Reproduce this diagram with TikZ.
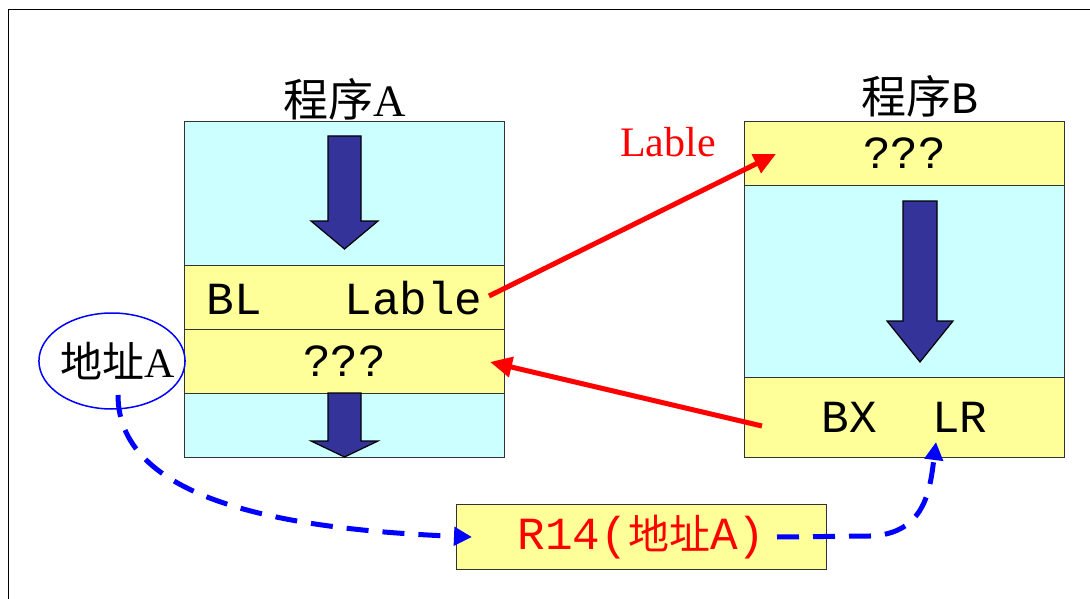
\documentclass[tikz,border=0pt]{standalone}
\usepackage{fontspec}
\setmainfont{Liberation Serif}
\setmonofont{Liberation Mono}
\newfontfamily\cjk{Noto Sans CJK SC}
\usetikzlibrary{arrows.meta,shapes.geometric}
\definecolor{memcyan}{HTML}{CCFFFF}
\definecolor{memyellow}{HTML}{FFFF99}
\definecolor{flowblue}{HTML}{333399}
\tikzset{
  membox/.style={draw=black!80, line width=1.2pt, fill=memcyan, anchor=north west, inner sep=0pt},
  rowbox/.style={draw=black!80, line width=1.2pt, fill=memyellow, anchor=north west, inner sep=0pt,
    font=\ttfamily\fontsize{46}{46}\selectfont},
  title/.style={font=\fontsize{45}{45}\selectfont, inner sep=0pt},
  flow/.style={draw=black, line width=1.2pt, fill=flowblue, line join=miter},
  jump/.style={draw=red, line width=5pt, -{Triangle[length=22pt,width=20pt]}},
  link/.style={draw=blue, line width=5pt, dash pattern=on 22pt off 14pt,
    -{Triangle[length=18pt,width=18pt]}},
}
\begin{document}
\begin{tikzpicture}[x=1pt,y=-1pt]
\useasboundingbox (0,0) rectangle (1090,599);
% outer frame (only top and left edges lie inside the page)
\draw[line width=1.6pt] (1095,9.5) -- (8.5,9.5) -- (8.5,605);

% program A
\node[membox, minimum width=320pt, minimum height=336pt] (progA) at (184,121) {};
\node[rowbox, minimum width=320pt, minimum height=64pt] (blrow) at (184,265) {BL~~~Lable};
\node[rowbox, minimum width=320pt, minimum height=64pt] (retA) at (184,329) {???};
\node[title] (titleA) at (345,99) {{\cjk 程序}A};

% program B
\node[membox, minimum width=320pt, minimum height=336pt] (progB) at (744,121) {};
\node[rowbox, minimum width=320pt, minimum height=64pt] (entryB) at (744,121) {???};
\node[rowbox, minimum width=320pt, minimum height=80pt] (bxrow) at (744,377) {BX~~LR};
\node[title] (titleB) at (920,96) {{\cjk 程序}\texttt{B}};

% flow arrows
\filldraw[flow] (328,136) -- (361,136) -- (361,221) -- (378,221) -- (344.5,249)
  -- (311,221) -- (328,221) -- cycle;
\filldraw[flow] (328,393) -- (361,393) -- (361,441) -- (378,441) -- (344.5,457)
  -- (311,441) -- (328,441) -- cycle;
\filldraw[flow] (903,201) -- (937,201) -- (937,321) -- (953,321) -- (920,362)
  -- (887,321) -- (903,321) -- cycle;

% return address
\node[ellipse, draw=blue, line width=1.5pt, minimum width=144pt, minimum height=96pt,
  inner xsep=-11.5pt, inner ysep=0pt, font=\fontsize{42}{42}\selectfont] (addr) at (112,361)
  {\hspace*{12pt}{\cjk 地址}A};
\node[rowbox, minimum width=370pt, minimum height=65pt, text=red] (lr) at (456,504)
  {R14({\cjk\fontsize{41}{41}\selectfont 地址}A)};

\node[text=red, font=\fontsize{42}{42}\selectfont, inner sep=0pt] (lbl) at (668,142) {Lable};

% jumps
\coordinate (blout) at (489,296);
\coordinate (entryin) at (776,154);
\coordinate (bxout) at (762,426);
\coordinate (retin) at (490,362);
\draw[jump] (blout) -- (entryin);
\draw[jump] (bxout) -- (retin);

% link register
\coordinate (addrout) at (118,395);
\coordinate (lrin) at (472,537);
\coordinate (lrout) at (777,537);
\coordinate (lrtarget) at (936,442);
\draw[link] (addrout) .. controls (118,505) and (300,530) .. (lrin);
\draw[link] (lrout) -- (870,536) .. controls (925,534) and (930,490) .. (lrtarget);
\end{tikzpicture}
\end{document}
